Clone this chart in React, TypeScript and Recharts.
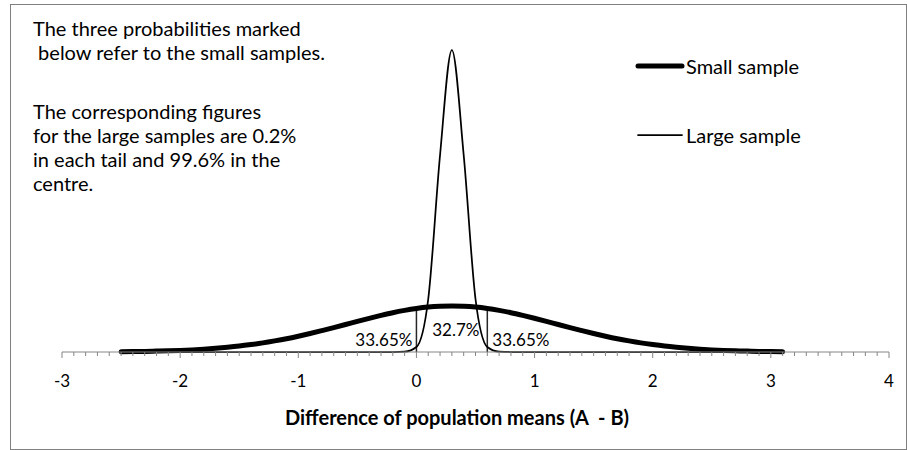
import { LineChart, Line, XAxis, YAxis, ReferenceLine, ReferenceDot, Legend } from "recharts";

// difference of means, the grid both curves are drawn on
const X_VALUES = [
  -2.5, -2.4, -2.3, -2.2, -2.1, -2.0, -1.9, -1.8, -1.7, -1.6,
  -1.5, -1.4, -1.3, -1.2, -1.1, -1.0, -0.9, -0.8, -0.7, -0.6,
  -0.5, -0.4, -0.3, -0.2, -0.1, 0.0, 0.1, 0.2, 0.3,
  0.4, 0.5, 0.6, 0.7, 0.8, 0.9, 1.0, 1.1,
  1.2, 1.3, 1.4, 1.5, 1.6, 1.7, 1.8, 1.9, 2.0, 2.1,
  2.2, 2.3, 2.4, 2.5, 2.6, 2.7, 2.8, 2.9, 3.0, 3.1,
];

const SMALL_SAMPLE = [
  0.003, 0.005, 0.006, 0.009, 0.012, 0.016, 0.021, 0.028, 0.037, 0.047,
  0.059, 0.074, 0.091, 0.111, 0.133, 0.158, 0.185, 0.214, 0.244, 0.275,
  0.307, 0.337, 0.366, 0.393, 0.416, 0.435, 0.449, 0.457, 0.46,
  0.457, 0.449, 0.435, 0.416, 0.393, 0.366, 0.337, 0.307,
  0.275, 0.244, 0.214, 0.185, 0.158, 0.133, 0.111, 0.091, 0.074, 0.059,
  0.047, 0.037, 0.028, 0.021, 0.016, 0.012, 0.009, 0.006, 0.005, 0.003,
];

const LARGE_SAMPLE = [
  0, 0, 0, 0, 0, 0, 0, 0, 0, 0,
  0, 0, 0, 0, 0, 0, 0, 0, 0, 0,
  0, 0, 0, 0, 0.003, 0.05, 0.53, 1.97, 3.02,
  1.97, 0.53, 0.05, 0.003, 0, 0, 0, 0,
  0, 0, 0, 0, 0, 0, 0, 0, 0, 0,
  0, 0, 0, 0, 0, 0, 0, 0, 0, 0,
];

const SERIES_NAMES = ["Small sample", "Large sample"];
const TAIL_BOUNDS = [0, 0.6];
const MEAN_DIFF = 0.3;
const PCT_LABELS = ["33.65%", "32.7%", "33.65%"];
const MAJOR_TICKS = [-3, -2, -1, 0, 1, 2, 3, 4];
const NOTE_LINES = [
  "The three probabilities marked",
  " below refer to the small samples.",
  "",
  "The corresponding figures",
  "for the large samples are 0.2%",
  "in each tail and 99.6% in the",
  "centre.",
];
const AXIS_TITLE = "Difference of population means (A  - B)";

const FONT = "Lato, 'Open Sans', sans-serif";
const AXIS_GREY = "#868686";

const rows = X_VALUES.map((x, i) => ({ x, small: SMALL_SAMPLE[i], large: LARGE_SAMPLE[i] }));

// minor ticks every 0.1 between the labelled integers
const allTicks: number[] = [];
for (let i = 0; i < MAJOR_TICKS.length - 1; i++) {
  for (let k = 0; k < 10; k++) allTicks.push(Math.round((MAJOR_TICKS[i] + k / 10) * 10) / 10);
}
allTicks.push(MAJOR_TICKS[MAJOR_TICKS.length - 1]);

const smallAt = (x: number) => SMALL_SAMPLE[X_VALUES.findIndex((v) => Math.abs(v - x) < 1e-9)];

function AxisTick({ x, y, payload }: any) {
  const v = payload.value;
  const major = Math.abs(v - Math.round(v)) < 1e-6;
  return (
    <g>
      <line x1={x} x2={x} y1={y} y2={y + (major ? 6 : 4)} stroke={AXIS_GREY} strokeWidth={1} />
      {major && (
        <text x={x} y={y + 28} textAnchor="middle" dominantBaseline="central"
          fontFamily={FONT} fontSize={17} fill="#000">
          {Math.round(v)}
        </text>
      )}
    </g>
  );
}

function pctShape(text: string, dx: number, dy: number, anchor: "start" | "middle" | "end") {
  return ({ cx, cy }: any) => (
    <text x={cx + dx} y={cy + dy} textAnchor={anchor} fontFamily={FONT} fontSize={17} fill="#000">
      {text}
    </text>
  );
}

function LegendBox() {
  const widths = [5, 1.75];
  const ys = [16, 85];
  return (
    <svg width={200} height={100} style={{ overflow: "visible" }}>
      {SERIES_NAMES.map((name, i) => (
        <g key={name}>
          <line x1={0} x2={44} y1={ys[i]} y2={ys[i]} stroke="#000" strokeWidth={widths[i]} strokeLinecap="round" />
          <text x={48} y={ys[i]} dominantBaseline="central" fontFamily={FONT} fontSize={20} fill="#000">
            {name}
          </text>
        </g>
      ))}
    </svg>
  );
}

export default function App() {
  return (
    <div style={{ position: "absolute", left: 0, top: 0, width: 907, height: 450, background: "#fff", fontFamily: FONT }}>
      <div style={{ position: "absolute", left: 10, top: 4, width: 895, height: 444, border: "1.5px solid #808080" }} />
      <LineChart width={907} height={450} data={rows} margin={{ top: 22, right: 18, bottom: 0, left: 62 }}
        style={{ position: "absolute", left: 0, top: 0 }}>
        <XAxis dataKey="x" type="number" domain={[-3, 4]} ticks={allTicks} interval={0}
          tickSize={0} tickMargin={0} height={98} stroke={AXIS_GREY} tick={<AxisTick />} />
        <YAxis hide domain={[0, 3.3]} />
        <Legend layout="vertical" align="center" verticalAlign="middle" content={<LegendBox />}
          wrapperStyle={{ left: 638, top: 50, width: 200, height: 100 }} />
        {TAIL_BOUNDS.map((b) => (
          <ReferenceLine key={b} segment={[{ x: b, y: 0 }, { x: b, y: smallAt(b) }]}
            stroke="#262626" strokeWidth={1.5} ifOverflow="visible" />
        ))}
        <Line name={SERIES_NAMES[0]} dataKey="small" type="monotone" stroke="#000" strokeWidth={5}
          strokeLinecap="round" dot={false} isAnimationActive={false} />
        <Line name={SERIES_NAMES[1]} dataKey="large" type="monotone" stroke="#000" strokeWidth={1.75}
          dot={false} isAnimationActive={false} />
        <ReferenceDot x={TAIL_BOUNDS[0]} y={0} r={0} ifOverflow="visible" shape={pctShape(PCT_LABELS[0], -4, -6, "end")} />
        <ReferenceDot x={MEAN_DIFF} y={0} r={0} ifOverflow="visible" shape={pctShape(PCT_LABELS[1], 4, -16, "middle")} />
        <ReferenceDot x={TAIL_BOUNDS[1]} y={0} r={0} ifOverflow="visible" shape={pctShape(PCT_LABELS[2], 5, -6, "start")} />
      </LineChart>
      <svg width={907} height={450} style={{ position: "absolute", left: 0, top: 0, pointerEvents: "none" }}>
        {NOTE_LINES.map((line, i) => (
          <text key={i} x={33} y={28 + i * 24 + (i >= 3 ? 11 : 0)} dominantBaseline="central"
            fontFamily={FONT} fontSize={20} fill="#000" style={{ whiteSpace: "pre" }}>
            {line}
          </text>
        ))}
        <text x={457} y={417} textAnchor="middle" dominantBaseline="central" fontFamily={FONT}
          fontSize={20} fontWeight="bold" fill="#000" style={{ whiteSpace: "pre" }}>
          {AXIS_TITLE}
        </text>
      </svg>
    </div>
  );
}
